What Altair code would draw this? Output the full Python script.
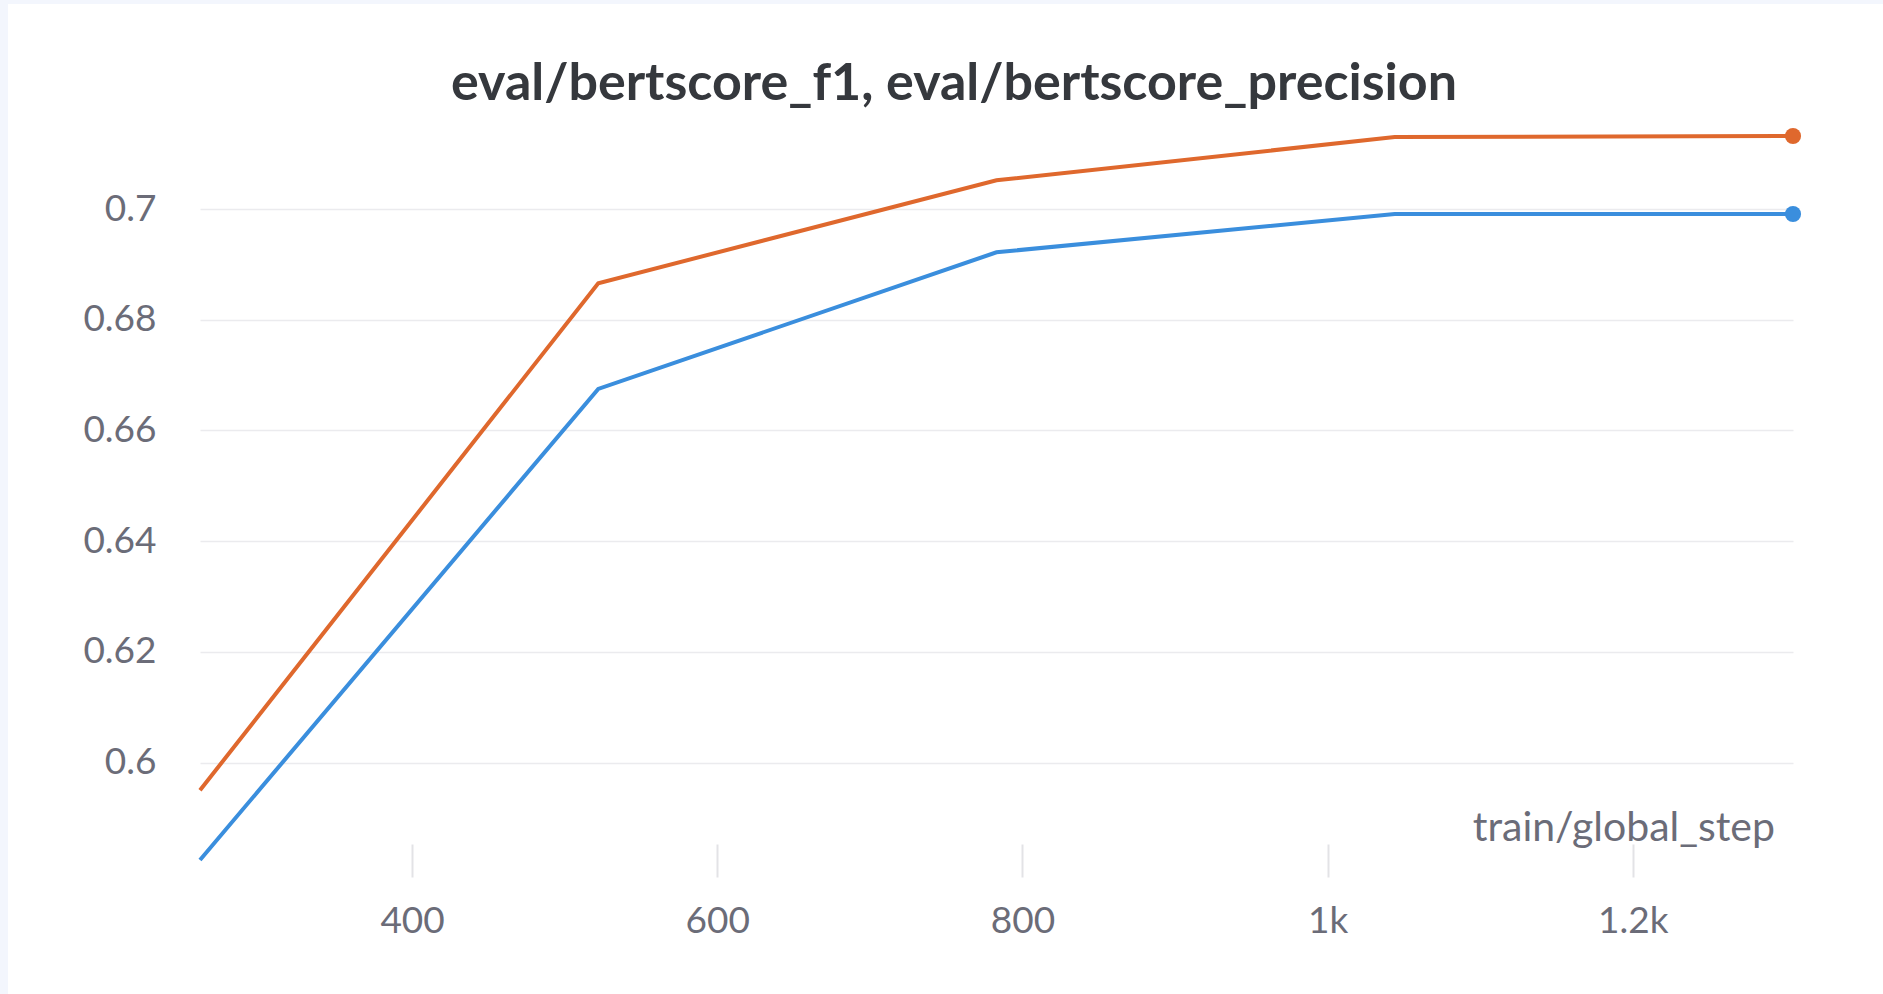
import altair as alt
import pandas as pd

steps = [261, 522, 783, 1044, 1305]
precision = [0.5950, 0.6866, 0.7052, 0.7130, 0.7132]
f1 = [0.5824, 0.6675, 0.6922, 0.6991, 0.6991]
series_names = ["eval/bertscore_precision", "eval/bertscore_f1"]
series_colors = ["#df682d", "#3a8edd"]
y_ticks = [0.6, 0.62, 0.64, 0.66, 0.68, 0.7]
x_ticks = [400, 600, 800, 1000, 1200]
title_text = "eval/bertscore_f1, eval/bertscore_precision"
x_title = "train/global_step"

rows = []
for name, vals in zip(series_names, [precision, f1]):
    for s, v in zip(steps, vals):
        rows.append({"step": s, "value": v, "series": name})
df = pd.DataFrame(rows)
last = df[df["step"] == max(steps)]

FONT = "Lato"
W, H = 1593, 724
PAD_L, PAD_T = 200, 136

color = alt.Color("series:N", scale=alt.Scale(domain=series_names, range=series_colors), legend=None)
x = alt.X("step:Q",
          scale=alt.Scale(zero=False, nice=False),
          axis=alt.Axis(values=x_ticks,
                        labelExpr="datum.value >= 1000 ? format(datum.value / 1000, '~g') + 'k' : format(datum.value, '~g')",
                        title=None, grid=False, domain=False,
                        ticks=True, tickSize=33, tickWidth=2, tickColor="#e3e3e6", offset=-16,
                        labelFontSize=37, labelColor="#6b6c78", labelFont=FONT, labelPadding=26))
y = alt.Y("value:Q",
          scale=alt.Scale(zero=False, nice=False),
          axis=alt.Axis(values=y_ticks, format="~g", title=None, grid=True, gridColor="#ebebee",
                        gridWidth=1.5, domain=False, ticks=False, labelFontSize=37,
                        labelColor="#6b6c78", labelFont=FONT, labelPadding=44))

lines = alt.Chart(df).mark_line(strokeWidth=4, clip=False).encode(x=x, y=y, color=color, detail="series:N")
pts = alt.Chart(last).mark_circle(size=260, opacity=1, clip=False).encode(x="step:Q", y="value:Q", color=color)

border_left = alt.Chart(pd.DataFrame({"a": [0]})).mark_rect(color="#f3f6fd").encode(
    x=alt.value(-PAD_L), x2=alt.value(-PAD_L + 8), y=alt.value(-PAD_T), y2=alt.value(994 - PAD_T))
border_top = alt.Chart(pd.DataFrame({"a": [0]})).mark_rect(color="#f3f6fd").encode(
    x=alt.value(-PAD_L), x2=alt.value(1883 - PAD_L), y=alt.value(-PAD_T), y2=alt.value(-PAD_T + 4))

xtitle = alt.Chart(pd.DataFrame({"t": [x_title]})).mark_text(
    align="right", baseline="middle", fontSize=41, font=FONT, color="#6b6c78").encode(
    text="t:N", x=alt.value(1775 - PAD_L), y=alt.value(829 - PAD_T))

title = alt.Chart(pd.DataFrame({"t": [title_text]})).mark_text(
    align="center", baseline="alphabetic", fontSize=52, font=FONT, fontWeight="bold",
    color="#35383d").encode(
    text="t:N", x=alt.value(954 - PAD_L), y=alt.value(100 - PAD_T))

chart = alt.layer(border_left, border_top, lines, pts, xtitle, title).properties(
    width=W, height=H,
    autosize=alt.AutoSizeParams(type="none"),
    padding={"left": PAD_L, "top": PAD_T, "right": 1883 - PAD_L - W, "bottom": 994 - PAD_T - H},
    background="white",
).configure_view(stroke=None)

chart.save("out.html", embed_options={"renderer": "svg", "actions": False})
